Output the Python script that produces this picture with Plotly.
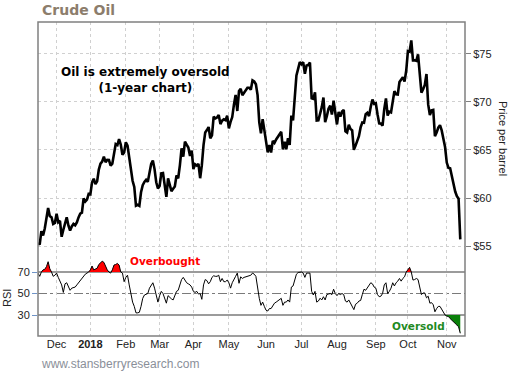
import plotly.graph_objects as go
from plotly.subplots import make_subplots

# ---- data (one value per trading day, 15 Nov 2017 .. 13 Nov 2018) ----
price = [
    # Nov 2017
    55.33, 55.14, 56.55, 56.09, 56.83, 58.02, 58.95, 58.11, 57.99, 57.30, 57.40,
    # Dec
    58.36, 57.47, 57.62, 55.96, 56.69, 57.36, 57.99, 57.14, 56.60, 57.04, 57.30, 57.16, 57.46, 57.98, 58.36, 58.47, 59.97, 59.64, 59.84, 60.42,
    # Jan 2018
    60.37, 61.63, 62.01, 61.44, 61.73, 62.96, 63.57, 63.80, 64.30, 63.73, 63.97, 63.95, 63.37, 63.57, 64.47, 65.61, 65.51, 66.14, 65.56, 64.50, 64.73,
    # Feb
    65.80, 65.45, 64.15, 63.39, 61.79, 61.15, 59.20, 59.29, 59.19, 60.60, 61.34, 61.68, 61.90, 61.68, 62.77, 63.55, 63.91, 63.01, 61.64,
    # Mar
    60.99, 61.25, 62.57, 62.60, 61.15, 60.12, 62.04, 61.36, 60.71, 60.96, 61.19, 62.34, 62.06, 63.40, 65.17, 64.30, 65.88, 65.55, 65.25, 64.38, 64.94,
    # Apr
    63.01, 63.51, 63.37, 63.54, 62.06, 63.42, 65.51, 66.82, 67.07, 67.39, 66.22, 66.52, 68.47, 68.29, 68.38, 68.64, 67.70, 68.05, 68.19, 68.10, 68.57,
    # May
    67.25, 67.93, 68.43, 69.72, 70.73, 69.06, 71.14, 71.36, 70.70, 70.96, 71.31, 71.49, 71.49, 71.28, 72.24, 72.13, 71.84, 70.71, 67.88, 66.73, 68.21, 67.04,
    # Jun
    65.81, 64.75, 65.52, 64.73, 65.95, 65.74, 66.10, 66.36, 66.64, 66.89, 65.06, 65.85, 65.07, 66.22, 65.54, 68.58, 68.08, 70.53, 72.76, 73.45, 74.15,
    # Jul
    73.94, 74.14, 72.94, 73.80, 73.85, 74.11, 70.38, 70.33, 71.01, 68.06, 68.08, 68.76, 69.46, 70.46, 67.89, 68.52, 69.30, 69.61, 68.69, 70.13, 68.76,
    # Aug
    67.66, 68.96, 68.49, 69.01, 69.17, 66.94, 66.81, 67.63, 67.20, 67.04, 65.01, 65.46, 65.91, 66.43, 67.35, 67.86, 67.83, 68.72, 68.87, 68.53, 69.51, 70.25, 69.80,
    # Sep
    69.87, 68.72, 67.77, 67.75, 67.54, 69.25, 70.37, 68.59, 68.99, 68.91, 69.85, 71.12, 70.80, 70.78, 72.08, 72.28, 72.57, 72.12, 73.25,
    # Oct
    75.30, 75.23, 76.41, 74.33, 74.34, 74.29, 74.96, 73.17, 70.97, 71.34, 71.78, 72.92, 69.75, 68.65, 69.12, 69.17, 66.43, 66.82, 67.33, 67.59, 67.04, 66.18, 65.31,
    # Nov
    63.69, 63.14, 63.10, 62.21, 61.67, 60.67, 60.19, 59.93, 55.69,
]

rsi = [
    69, 66, 70, 72, 72.5, 75, 79.6, 73, 70, 66, 67,
    69, 65, 62, 58, 51, 59, 60, 56, 53, 55, 55.5, 56, 58, 60, 63, 64, 67, 68, 69, 70,
    72, 75.6, 72, 73, 73.5, 77, 79, 80, 79, 75, 72, 70, 69, 72, 76.5, 77, 78, 76.5, 70, 69, 61,
    65, 67, 58, 50, 42, 38, 32, 32, 32.5, 38, 45.5, 48.6, 49, 50, 55, 57, 60, 55, 47,
    42, 48, 52, 50, 46, 41, 48, 46, 45, 44, 48, 52, 53, 58, 63, 65, 62, 60, 59, 58, 56,
    52, 51, 52, 49.5, 50, 44.6, 58, 63, 62, 59, 61, 65, 66.5, 66, 66, 67, 61, 64, 61, 61, 62.5,
    60, 55, 60, 62.5, 66, 69, 59.5, 65.5, 64, 65, 65.5, 65.5, 66, 67, 69, 68, 66, 53, 45.5, 39, 42, 38,
    34.5, 33.7, 36, 36, 39, 41, 42, 43, 44, 45.5, 39, 42, 42, 44, 42, 56, 57, 63, 68, 69.5, 70,
    70, 69, 65, 69, 69, 69, 52, 48.6, 52, 42, 43, 45.6, 44, 47, 44, 49, 49.5, 50, 49, 54, 50,
    48, 50, 49, 50, 49, 43, 42, 44, 41, 39, 35, 40, 41, 43, 43.5, 49, 54, 53, 55, 57, 60, 59, 56,
    55, 49, 47, 47.5, 50, 58, 60, 50, 52, 55, 60, 57, 60, 61.5, 64, 61.5, 64, 65.5, 70,
    72, 74.3, 70, 62.5, 63, 64, 63, 55, 49, 50.5, 50.5, 46, 47.5, 41, 41.5, 39.5, 33, 36, 38, 38, 35, 33, 30,
    29, 28.6, 26.7, 25.3, 24, 23, 20.7, 19, 13,
]

month_tick_index = [11, 31, 52, 72, 92, 113, 135, 156, 177, 200, 219, 242]
month_tick_text = ["Dec", "<b>2018</b>", "Feb", "Mar", "Apr", "May", "Jun", "Jul",
                   "Aug", "Sep", "Oct", "Nov"]
price_tick_values = [55, 60, 65, 70, 75]
price_tick_text = ["$55", "$60", "$65", "$70", "$75"]
rsi_tick_values = [30, 50, 70]
overbought_level = 70
oversold_level = 30
mid_level = 50

x = list(range(len(price)))


def clipped(xs, ys, level, above):
    """Series clipped at level, with crossing points added, for the shaded zones."""
    ox, oy = [], []
    for k in range(len(xs)):
        if k > 0:
            y0, y1 = ys[k - 1], ys[k]
            if (y0 - level) * (y1 - level) < 0:
                t = (level - y0) / (y1 - y0)
                ox.append(xs[k - 1] + t * (xs[k] - xs[k - 1]))
                oy.append(level)
        ox.append(xs[k])
        oy.append(max(ys[k], level) if above else min(ys[k], level))
    return ox, oy


fig = make_subplots(rows=2, cols=1, shared_xaxes=True, vertical_spacing=0)

fig.add_trace(go.Scatter(x=x, y=price, mode="lines",
                         line=dict(color="black", width=2.6), hoverinfo="skip"),
              row=1, col=1)

# shaded overbought / oversold areas
for level, above, color in [(overbought_level, True, "#ff0000"),
                            (oversold_level, False, "#0a800a")]:
    cx, cy = clipped(x, rsi, level, above)
    fig.add_trace(go.Scatter(x=cx, y=[level] * len(cx), mode="lines",
                             line=dict(width=0, color=color), hoverinfo="skip"),
                  row=2, col=1)
    fig.add_trace(go.Scatter(x=cx, y=cy, mode="lines", fill="tonexty",
                             fillcolor=color, line=dict(width=0, color=color),
                             hoverinfo="skip"),
                  row=2, col=1)

fig.add_trace(go.Scatter(x=x, y=rsi, mode="lines",
                         line=dict(color="black", width=1), hoverinfo="skip"),
              row=2, col=1)

grid = dict(showgrid=True, gridcolor="#d0d0d0", griddash="dot", gridwidth=1)
tickfont = dict(family="Liberation Sans, Arial, sans-serif", size=11, color="#222222")

x_range = [0, 252.8]
fig.update_layout(
    width=510, height=371,
    margin=dict(l=38, r=45, t=22, b=35),
    paper_bgcolor="white", plot_bgcolor="white",
    showlegend=False,
    xaxis=dict(domain=[0, 1], range=x_range, tickvals=month_tick_index,
               showticklabels=False, ticks="", zeroline=False, showline=False, **grid),
    xaxis2=dict(domain=[0, 1], range=x_range, tickvals=month_tick_index,
                ticktext=month_tick_text, ticks="", zeroline=False, showline=False,
                tickfont=tickfont, **grid),
    yaxis=dict(domain=[0.2548, 1], range=[53.96, 78.33], side="right",
               tickvals=price_tick_values, ticktext=price_tick_text,
               ticks="outside", ticklen=5, tickcolor="#808080", tickwidth=1,
               zeroline=False, showline=False, tickfont=tickfont, **grid),
    yaxis2=dict(domain=[0, 0.2548], range=[10.47, 84.9], side="left",
                tickvals=rsi_tick_values, ticks="outside", ticklen=5,
                tickcolor="#6f94c8", tickwidth=1, showgrid=False,
                zeroline=False, showline=False, tickfont=tickfont),
)

line_gray = "#7a7a7a"
for level, dash, w in [(overbought_level, "solid", 1.5), (oversold_level, "solid", 1.5),
                       (mid_level, "dashdot", 1)]:
    fig.add_shape(type="line", xref="x2 domain", yref="y2", x0=0, x1=1,
                  y0=level, y1=level, line=dict(color=line_gray, width=w, dash=dash),
                  layer="below")

fig.add_shape(type="rect", xref="paper", yref="paper", x0=0, x1=1, y0=0, y1=1,
              line=dict(color="#808080", width=1.5), layer="above")

verdana = "DejaVu Sans, Verdana, sans-serif"
arial = "Liberation Sans, Arial, sans-serif"
annotations = [
    dict(text="<b>Crude Oil</b>", x=0.0047, y=1.038, xanchor="left", yanchor="middle",
         font=dict(family=verdana, size=14, color="#8c7d6c")),
    dict(text="<b>Oil is extremely oversold<br>(1-year chart)</b>", x=0.2506, y=0.8137,
         xanchor="center", yanchor="middle", align="center",
         font=dict(family=verdana, size=12, color="black")),
    dict(text="<b>Overbought</b>", x=0.2108, y=0.2389, xanchor="left", yanchor="middle",
         font=dict(family=verdana, size=10.5, color="#ff0000")),
    dict(text="<b>Oversold</b>", x=0.8244, y=0.0318, xanchor="left", yanchor="middle",
         font=dict(family=verdana, size=10.5, color="#1f8a1f")),
    dict(text="www.stansberryresearch.com", x=0.0023, y=-0.0892, xanchor="left",
         yanchor="middle", font=dict(family=arial, size=12, color="#8a8f99")),
    dict(text="Price per barrel", x=1.089, y=0.6306, xanchor="center", yanchor="middle",
         textangle=90, font=dict(family=arial, size=11, color="#222222")),
    dict(text="RSI", x=-0.0726, y=0.121, xanchor="center", yanchor="middle",
         textangle=-90, font=dict(family=arial, size=11, color="#222222")),
]
for a in annotations:
    fig.add_annotation(xref="paper", yref="paper", showarrow=False, **a)

fig.write_html(
    "out.html",
    config={"displayModeBar": False, "staticPlot": True},
    post_script="document.body.style.margin='0';document.body.style.padding='0';"
                "document.body.style.overflow='hidden';",
)
